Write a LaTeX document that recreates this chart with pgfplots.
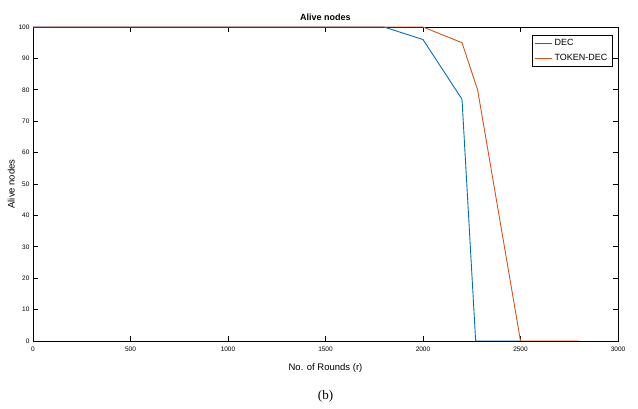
\documentclass[border=0pt]{standalone}
\usepackage{pgfplots}
\pgfplotsset{compat=1.18}
\usepackage{fontspec}
\setmainfont{Liberation Sans}
\newfontfamily\seriffont{Liberation Serif}
\definecolor{mblue}{rgb}{0,0.447,0.741}
\definecolor{morange}{rgb}{0.85,0.325,0.098}
\begin{document}
\begin{tikzpicture}
\begin{axis}[
  at={(0,0)}, anchor=south west,
  scale only axis,
  width=585pt, height=314pt,
  xmin=0, xmax=3000, ymin=0, ymax=100,
  xtick={0,500,...,3000},
  ytick={0,10,...,100},
  tick align=inside,
  major tick length=5pt,
  tick style={black, line width=0.6pt},
  axis line style={black, line width=0.6pt},
  tick label style={font=\fontsize{6.5}{7}\selectfont},
  xticklabel style={yshift=-2pt},
  /pgf/number format/assume math mode=true,
  /pgf/number format/1000 sep={},
  title={\bfseries Alive nodes},
  title style={font=\fontsize{9}{10}\selectfont, yshift=-3pt},
  xlabel={No. of Rounds (r)},
  ylabel={Alive nodes},
  label style={font=\fontsize{9.5}{10}\selectfont},
  xlabel style={yshift=-6pt},
  ylabel style={yshift=-3pt},
  legend style={at={(0.99,0.975)}, anchor=north east, font=\fontsize{9}{10}\selectfont,
    draw=black, line width=0.5pt, inner sep=2.5pt, row sep=3pt, cells={anchor=west}},
  legend cell align=left,
  legend image code/.code={\draw[#1, line width=0.9pt] (0cm,0cm) -- (0.6cm,0cm);},
]
\addplot[mblue, line width=0.9pt] coordinates {
(0,100) (1800,100) (2000,96) (2200,77) (2270,0) (2500,0)
};
\addlegendentry{DEC}
\addplot[morange, line width=0.9pt] coordinates {
(0,100) (2000,100) (2200,95) (2280,80) (2500,0) (2800,0)
};
\addlegendentry{TOKEN-DEC}
\end{axis}
\node[font=\seriffont\fontsize{13}{14}\selectfont] at (292.5pt,-55pt) {(b)};
\path[use as bounding box] (-33pt,-68pt) rectangle (605pt,341pt);
\end{tikzpicture}
\end{document}
